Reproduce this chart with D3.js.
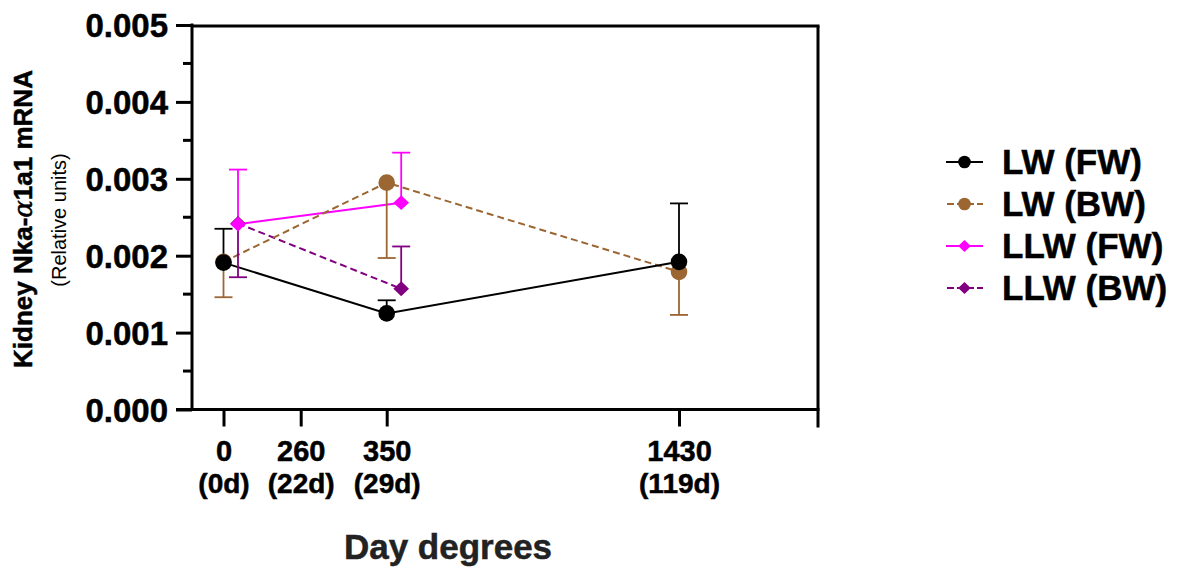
<!DOCTYPE html>
<html>
<head>
<meta charset="utf-8">
<script src="https://cdn.jsdelivr.net/npm/d3@7"></script>
<style>
  body { margin: 0; background: #fff; }
  svg { display: block; }
  text { font-family: "Liberation Sans", Arial, Helvetica, sans-serif; }
  .heavy { stroke: currentColor; stroke-width: 0.5px; }
</style>
</head>
<body>
<svg id="chart" width="1178" height="570"></svg>
<script>
// ---- data ----
const xTickValues = [0, 260, 350, 1430];
const xTickLine1 = ["0", "260", "350", "1430"];
const xTickLine2 = ["(0d)", "(22d)", "(29d)", "(119d)"];
const yTickValues = [0, 0.001, 0.002, 0.003, 0.004, 0.005];
const yTickLabels = ["0.000", "0.001", "0.002", "0.003", "0.004", "0.005"];

const seriesNames = ["LW (FW)", "LW (BW)", "LLW (FW)", "LLW (BW)"];
const lwFwX = [0, 350, 1430];
const lwFwY = [0.00191, 0.00125, 0.00192];
const lwFwErr = [0.00044, 0.00017, 0.00076];     // drawn upward
const lwFwDir = [1, 1, 1];

const lwBwX = [0, 350, 1430];
const lwBwY = [0.00192, 0.00295, 0.00179];
const lwBwErr = [0.00046, 0.00098, 0.00056];     // drawn downward
const lwBwDir = [-1, -1, -1];

const llwFwX = [0, 350];
const llwFwY = [0.00241, 0.00269];
const llwFwErr = [0.00071, 0.00065];
const llwFwDir = [1, 1];

const llwBwX = [0, 350];
const llwBwY = [0.00242, 0.00157];
const llwBwErr = [0.00070, 0.00055];
const llwBwDir = [-1, 1];

// ---- layout ----
const svg = d3.select("#chart");
const pLeft = 192, pRight = 818, pTop = 25, pBottom = 409.5;

// piecewise x scale (axis in the original is not linear)
const x = d3.scaleLinear()
  .domain([-108, 0, 260, 350, 1430, 1944])
  .range([pLeft, 223.5, 300.7, 386.7, 679, pRight]);
const y = d3.scaleLinear().domain([0, 0.005]).range([pBottom, pTop]);

const colors = ["#000000", "#9C6633", "#FF00FF", "#800080"];
const dashes = [null, "7,4", null, "7,4"];
const shapes = ["circle", "circle", "diamond", "diamond"];
const dodge = [0, 0, 14.5, 14.5];

const series = [
  {x: lwFwX, y: lwFwY, e: lwFwErr, d: lwFwDir},
  {x: lwBwX, y: lwBwY, e: lwBwErr, d: lwBwDir},
  {x: llwFwX, y: llwFwY, e: llwFwErr, d: llwFwDir},
  {x: llwBwX, y: llwBwY, e: llwBwErr, d: llwBwDir}
].map((s, i) => ({
  i, name: seriesNames[i], color: colors[i], dash: dashes[i], shape: shapes[i], dodge: dodge[i],
  pts: s.x.map((xv, j) => ({x: xv, y: s.y[j], e: s.e[j], d: s.d[j]}))
}));

// ---- axes ----
const axisW = 3;
// y axis
const yAxis = d3.axisLeft(y).tickValues(yTickValues).tickFormat((d, i) => yTickLabels[i]).tickSize(16).tickPadding(8);
const gy = svg.append("g").attr("transform", `translate(${pLeft},0)`).call(yAxis);
gy.select(".domain").remove();
gy.selectAll(".tick line").attr("stroke", "#000").attr("stroke-width", axisW);
gy.selectAll(".tick text").attr("font-size", 33).attr("font-weight", "bold").attr("fill", "#000")
  .attr("class", "heavy").style("color", "#000")
  .attr("dy", "0.36em").attr("x", -24);
// minor ticks
const minor = d3.range(0.0005, 0.005, 0.001);
svg.append("g").selectAll("line").data(minor).join("line")
  .attr("x1", pLeft - 9).attr("x2", pLeft).attr("y1", d => y(d)).attr("y2", d => y(d))
  .attr("stroke", "#000").attr("stroke-width", axisW);
// y axis line
svg.append("line").attr("x1", pLeft).attr("x2", pLeft).attr("y1", pTop - 1.5).attr("y2", pBottom + 1.5)
  .attr("stroke", "#000").attr("stroke-width", axisW);

// x axis
const xAxis = d3.axisBottom(x).tickValues(xTickValues).tickFormat("").tickSize(17);
const gx = svg.append("g").attr("transform", `translate(0,${pBottom})`).call(xAxis);
gx.select(".domain").remove();
gx.selectAll(".tick line").attr("stroke", "#000").attr("stroke-width", axisW);
gx.selectAll(".tick").each(function(d, i) {
  const t = d3.select(this);
  t.append("text").attr("y", 51).attr("text-anchor", "middle").attr("font-size", 29)
    .attr("font-weight", "bold").attr("fill", "#000").attr("class", "heavy").style("color", "#000")
    .text(xTickLine1[i]);
  t.append("text").attr("y", 83).attr("text-anchor", "middle").attr("font-size", 28)
    .attr("font-weight", "bold").attr("fill", "#000").attr("class", "heavy").style("color", "#000")
    .text(xTickLine2[i]);
});
// x axis line
svg.append("line").attr("x1", pLeft - 16).attr("x2", pRight + 1.5).attr("y1", pBottom).attr("y2", pBottom)
  .attr("stroke", "#000").attr("stroke-width", axisW);
// frame top and right
svg.append("line").attr("x1", pLeft).attr("x2", pRight + 1.5).attr("y1", pTop + 1).attr("y2", pTop + 1)
  .attr("stroke", "#000").attr("stroke-width", axisW);
svg.append("line").attr("x1", pRight).attr("x2", pRight).attr("y1", pTop + 1).attr("y2", pBottom + 18)
  .attr("stroke", "#000").attr("stroke-width", axisW);

// titles
svg.append("text").attr("x", 448).attr("y", 559).attr("text-anchor", "middle")
  .attr("font-size", 35).attr("font-weight", "bold").attr("fill", "#222")
  .attr("class", "heavy").style("color", "#222").text("Day degrees");
const yt = svg.append("text").attr("transform", "translate(32,219) rotate(-90)").attr("text-anchor", "middle")
  .attr("font-size", 26).attr("font-weight", "bold").attr("fill", "#000")
  .attr("class", "heavy").style("color", "#000");
yt.append("tspan").text("Kidney Nka-");
yt.append("tspan").attr("font-family", "DejaVu Serif").attr("font-style", "italic").attr("font-weight", "normal").text("α");
yt.append("tspan").text("1a1 mRNA");
svg.append("text").attr("transform", "translate(66,220) rotate(-90)").attr("text-anchor", "middle")
  .attr("font-size", 20).attr("fill", "#000").text("(Relative units)");

// ---- marks ----
function drawMarker(g, shape, cx, cy, size, color) {
  if (shape === "circle") {
    g.append("circle").attr("cx", cx).attr("cy", cy).attr("r", size).attr("fill", color);
  } else {
    const h = size * 0.95, w = size;
    g.append("path").attr("d", `M${cx - w},${cy}L${cx},${cy - h}L${cx + w},${cy}L${cx},${cy + h}Z`).attr("fill", color);
  }
}

const plot = svg.append("g");
const lineGen = d3.line().x(d => d.px).y(d => y(d.y));
const drawOrder = [3, 2, 1, 0];
// lines
drawOrder.forEach(si => {
  const s = series[si];
  s.pts.forEach(p => p.px = x(p.x) + s.dodge);
  plot.append("path").datum(s.pts).attr("d", lineGen).attr("fill", "none")
    .attr("stroke", s.color).attr("stroke-width", 2).attr("stroke-dasharray", s.dash);
});
// error bars
drawOrder.forEach(si => {
  const s = series[si];
  const g = plot.append("g").attr("stroke", s.color).attr("stroke-width", 1.8);
  s.pts.forEach(p => {
    const y0 = y(p.y), y1 = y(p.y + p.d * p.e);
    g.append("line").attr("x1", p.px).attr("x2", p.px).attr("y1", y0).attr("y2", y1);
    g.append("line").attr("x1", p.px - 9).attr("x2", p.px + 9).attr("y1", y1).attr("y2", y1);
  });
});
// markers
drawOrder.forEach(si => {
  const s = series[si];
  const g = plot.append("g");
  s.pts.forEach(p => drawMarker(g, s.shape, p.px, y(p.y), s.shape === "circle" ? 8.3 : 7.8, s.color));
});

// ---- legend ----
const legendRowY = d3.scaleLinear().domain([0, 3]).range([162, 288]);
const lg = svg.append("g");
series.forEach((s, i) => {
  const cy = legendRowY(i);
  lg.append("line").attr("x1", 946).attr("x2", 983).attr("y1", cy).attr("y2", cy)
    .attr("stroke", s.color).attr("stroke-width", 2).attr("stroke-dasharray", s.dash ? "7,3" : null)
    .attr("stroke-dashoffset", s.dash ? -1 : null);
  drawMarker(lg, s.shape, 964.5, cy, 6.3, s.color);
  lg.append("text").attr("x", 1002).attr("y", cy + 12).attr("font-size", 35).attr("font-weight", "bold")
    .attr("fill", "#000").attr("class", "heavy").style("color", "#000").text(s.name);
});
</script>
</body>
</html>
